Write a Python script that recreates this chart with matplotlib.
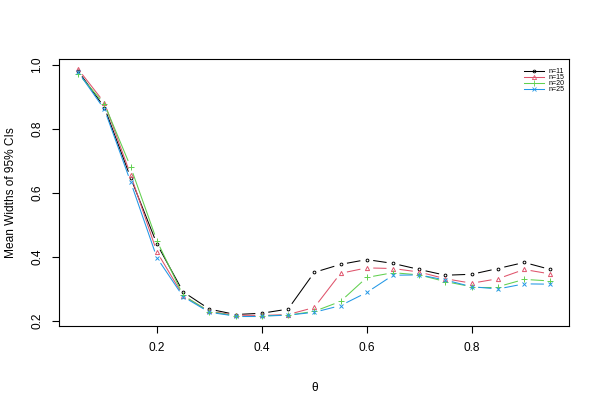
import numpy as np
import matplotlib
matplotlib.use("Agg")
import matplotlib.pyplot as plt
from matplotlib.lines import Line2D
from matplotlib.collections import LineCollection

plt.rcParams['font.family'] = ['Liberation Sans', 'DejaVu Sans']

theta = [0.05, 0.10, 0.15, 0.20, 0.25, 0.30, 0.35, 0.40, 0.45, 0.50,
         0.55, 0.60, 0.65, 0.70, 0.75, 0.80, 0.85, 0.90, 0.95]
n11 = [0.981, 0.867, 0.647, 0.440, 0.290, 0.236, 0.219, 0.223, 0.236, 0.351,
       0.376, 0.391, 0.379, 0.360, 0.342, 0.345, 0.363, 0.382, 0.360]
n15 = [0.987, 0.882, 0.656, 0.415, 0.278, 0.229, 0.217, 0.216, 0.219, 0.241,
       0.348, 0.365, 0.363, 0.352, 0.331, 0.317, 0.331, 0.360, 0.346]
n20 = [0.973, 0.878, 0.681, 0.450, 0.279, 0.228, 0.215, 0.215, 0.217, 0.229,
       0.260, 0.335, 0.350, 0.343, 0.322, 0.306, 0.306, 0.329, 0.324]
n25 = [0.978, 0.861, 0.634, 0.397, 0.275, 0.226, 0.214, 0.214, 0.217, 0.226,
       0.247, 0.288, 0.342, 0.343, 0.327, 0.306, 0.299, 0.315, 0.314]
labels = ["n=11", "n=15", "n=20", "n=25"]
xticks = [0.2, 0.4, 0.6, 0.8]
yticks = [0.2, 0.4, 0.6, 0.8, 1.0]

series = [n11, n15, n20, n25]
colors = ["black", "#DF536B", "#61D04F", "#2297E6"]
markers = ["o", "^", "+", "x"]
msizes = [2.0, 3.0, 4.5, 3.3]

fig = plt.figure(figsize=(6, 4), dpi=100)
ax = fig.add_axes([59.3/600, 1-326/400, (569.3-59.3)/600, (326-59.3)/400])

allv = np.concatenate([np.array(s) for s in series])
xr = max(theta) - min(theta)
yr = allv.max() - allv.min()
ax.set_xlim(min(theta) - 0.04*xr, max(theta) + 0.04*xr)
ax.set_ylim(allv.min() - 0.04*yr, allv.max() + 0.04*yr)

gap = 6.5  # pixels
x = np.array(theta)
for s, c, m, ms in zip(series, colors, markers, msizes):
    y = np.array(s)
    pts = ax.transData.transform(np.column_stack([x, y]))
    segs = []
    for i in range(len(pts)-1):
        p0, p1 = pts[i], pts[i+1]
        d = p1 - p0
        L = np.hypot(*d)
        if L > 2*gap:
            u = d / L
            a = p0 + u*gap
            b = p1 - u*gap
            segs.append(ax.transData.inverted().transform(np.array([a, b])))
    ax.add_collection(LineCollection(segs, colors=c, linewidths=0.75))
    ax.plot(x, y, linestyle='none', marker=m, color=c, ms=ms,
            mfc='none', mec=c, mew=0.7)

ax.set_xticks(xticks)
ax.set_xticklabels([f"{t:.1f}" for t in xticks])
ax.set_yticks(yticks)
ax.set_yticklabels([f"{t:.1f}" for t in yticks], rotation=90, va='center')
ax.tick_params(direction='out', length=5, width=0.8, labelsize=8.6, pad=6.5)
for sp in ax.spines.values():
    sp.set_linewidth(0.8)

ax.set_xlabel("θ", fontsize=8.6, labelpad=20)
ax.set_ylabel("Mean Widths of 95% CIs", fontsize=8.6, labelpad=10)

handles = [Line2D([0], [0], color=c, marker=m, ms=ms, mfc='none', mec=c,
                  mew=0.6, lw=0.75) for c, m, ms in zip(colors, markers, msizes)]
ax.legend(handles, labels, loc='upper right', frameon=False, fontsize=5.0,
          handlelength=2.8, handletextpad=0.7, labelspacing=-0.15,
          borderaxespad=0.3, bbox_to_anchor=(1.0, 0.985))

fig.savefig("out.png", dpi=100)
